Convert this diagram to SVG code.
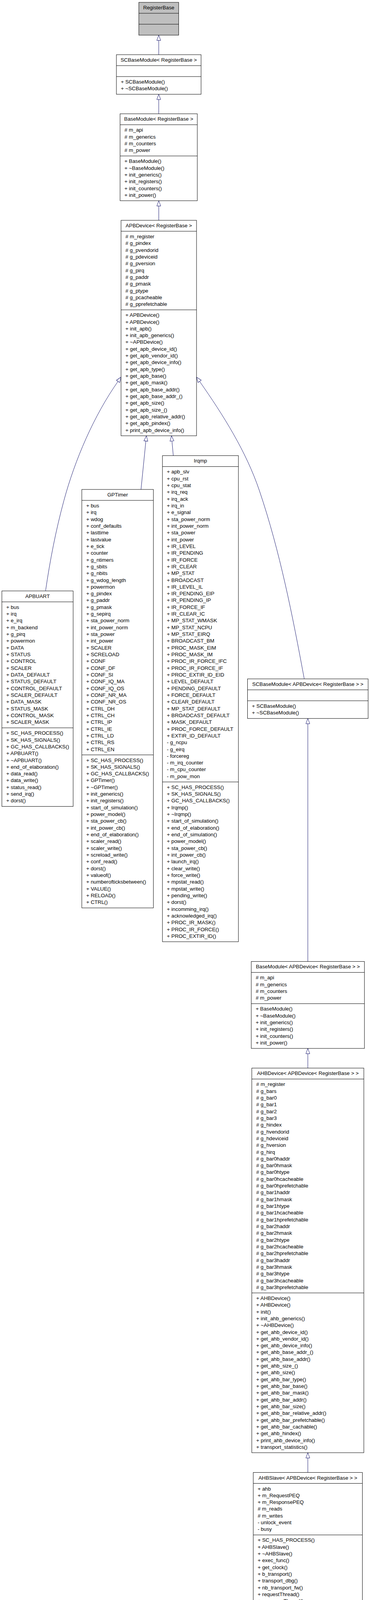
<svg xmlns="http://www.w3.org/2000/svg" width="947" height="6957" viewBox="0 0 947 6957">
<style>
.t{font-family:"Liberation Sans",Arial,Helvetica,sans-serif;font-size:13.3px;fill:#000}
.c{text-anchor:middle}
.b{fill:#fff;stroke:#000;stroke-width:1}
.g{fill:#bfbfbf}
.d{stroke:#000;stroke-width:1}
.e{fill:none;stroke:#191970;stroke-width:1;marker-end:url(#arr)}
</style>
<defs>
<marker id="arr" markerUnits="userSpaceOnUse" markerWidth="16" markerHeight="12" viewBox="-1 -1 16 12" refX="13.5" refY="5" orient="auto">
<path d="M0,0 L13.5,5 L0,10 Z" fill="#fff" stroke="#191970" stroke-width="1"/>
</marker>
</defs>
<rect width="947" height="6957" fill="#fff"/>

<g id="edges">
<path class="e" d="M406.3,140 V90"/>
<path class="e" d="M406.3,291.3 V241.32"/>
<path class="e" d="M406.4,564 V513.86"/>
<path class="e" d="M116.6,1512.8 C128,1434.6 142.6,1358.8 163.5,1281.6 C191.7,1177.4 240.1,1064.1 302.4,975.9 L309.8,965.3"/>
<path class="e" d="M360.9,1253 L374.7,1115.64"/>
<path class="e" d="M443.5,1166.4 L438.9,1115.64"/>
<path class="e" d="M778.7,1737.96 C748.8,1576.2 716.7,1412.3 663.9,1256 C630,1155.6 571.3,1062.7 510.6,975.9 L503,965.3"/>
<path class="e" d="M787.9,2461.4 V1839.28"/>
<path class="e" d="M787.9,2734.3 V2683.96"/>
<path class="e" d="M787.9,3769.5 V3718.94"/>
<path class="e" d="M787.9,4198 V4147.94"/>
</g>

<g id="RegisterBase">
<rect class="b g" x="355.3" y="6" width="102" height="84"/>
<line class="d" x1="355.3" y1="34" x2="457.3" y2="34"/>
<line class="d" x1="355.3" y1="62" x2="457.3" y2="62"/>
<text class="t c" x="406.3" y="24">RegisterBase</text>
</g>

<g id="SCBaseModule_RegisterBase">
<rect class="b" x="297.95" y="140" width="216.7" height="101.32"/>
<line class="d" x1="297.95" y1="168" x2="514.65" y2="168"/>
<line class="d" x1="297.95" y1="196" x2="514.65" y2="196"/>
<text class="t c" x="406.3" y="158">SCBaseModule&lt; RegisterBase &gt;</text>
<text class="t" y="214"><tspan x="309.25" dy="0">+ SCBaseModule()</tspan><tspan x="309.25" dy="17.32">+ ~SCBaseModule()</tspan></text>
</g>

<g id="BaseModule_RegisterBase">
<rect class="b" x="307.3" y="291.3" width="197.7" height="222.56"/>
<line class="d" x1="307.3" y1="319.3" x2="505" y2="319.3"/>
<line class="d" x1="307.3" y1="399.26" x2="505" y2="399.26"/>
<text class="t c" x="406.15" y="309.3">BaseModule&lt; RegisterBase &gt;</text>
<text class="t" y="337.3"><tspan x="318.6" dy="0"># m_api</tspan><tspan x="318.6" dy="17.32"># m_generics</tspan><tspan x="318.6" dy="17.32"># m_counters</tspan><tspan x="318.6" dy="17.32"># m_power</tspan></text>
<text class="t" y="417.26"><tspan x="318.6" dy="0">+ BaseModule()</tspan><tspan x="318.6" dy="17.32">+ ~BaseModule()</tspan><tspan x="318.6" dy="17.32">+ init_generics()</tspan><tspan x="318.6" dy="17.32">+ init_registers()</tspan><tspan x="318.6" dy="17.32">+ init_counters()</tspan><tspan x="318.6" dy="17.32">+ init_power()</tspan></text>
</g>

<g id="APBDevice_RegisterBase">
<rect class="b" x="309.8" y="564" width="193.2" height="551.64"/>
<line class="d" x1="309.8" y1="592" x2="503" y2="592"/>
<line class="d" x1="309.8" y1="793.2" x2="503" y2="793.2"/>
<text class="t c" x="406.4" y="582">APBDevice&lt; RegisterBase &gt;</text>
<text class="t" y="610"><tspan x="321.1" dy="0"># m_register</tspan><tspan x="321.1" dy="17.32"># g_pindex</tspan><tspan x="321.1" dy="17.32"># g_pvendorid</tspan><tspan x="321.1" dy="17.32"># g_pdeviceid</tspan><tspan x="321.1" dy="17.32"># g_pversion</tspan><tspan x="321.1" dy="17.32"># g_pirq</tspan><tspan x="321.1" dy="17.32"># g_paddr</tspan><tspan x="321.1" dy="17.32"># g_pmask</tspan><tspan x="321.1" dy="17.32"># g_ptype</tspan><tspan x="321.1" dy="17.32"># g_pcacheable</tspan><tspan x="321.1" dy="17.32"># g_pprefetchable</tspan></text>
<text class="t" y="811.2"><tspan x="321.1" dy="0">+ APBDevice()</tspan><tspan x="321.1" dy="17.32">+ APBDevice()</tspan><tspan x="321.1" dy="17.32">+ init_apb()</tspan><tspan x="321.1" dy="17.32">+ init_apb_generics()</tspan><tspan x="321.1" dy="17.32">+ ~APBDevice()</tspan><tspan x="321.1" dy="17.32">+ get_apb_device_id()</tspan><tspan x="321.1" dy="17.32">+ get_apb_vendor_id()</tspan><tspan x="321.1" dy="17.32">+ get_apb_device_info()</tspan><tspan x="321.1" dy="17.32">+ get_apb_type()</tspan><tspan x="321.1" dy="17.32">+ get_apb_base()</tspan><tspan x="321.1" dy="17.32">+ get_apb_mask()</tspan><tspan x="321.1" dy="17.32">+ get_apb_base_addr()</tspan><tspan x="321.1" dy="17.32">+ get_apb_base_addr_()</tspan><tspan x="321.1" dy="17.32">+ get_apb_size()</tspan><tspan x="321.1" dy="17.32">+ get_apb_size_()</tspan><tspan x="321.1" dy="17.32">+ get_apb_relative_addr()</tspan><tspan x="321.1" dy="17.32">+ get_apb_pindex()</tspan><tspan x="321.1" dy="17.32">+ print_apb_device_info()</tspan></text>
</g>

<g id="APBUART">
<rect class="b" x="4.8" y="1512.8" width="182.4" height="551.64"/>
<line class="d" x1="4.8" y1="1540.8" x2="187.2" y2="1540.8"/>
<line class="d" x1="4.8" y1="1863.24" x2="187.2" y2="1863.24"/>
<text class="t c" x="96" y="1530.8">APBUART</text>
<text class="t" y="1558.8"><tspan x="16.1" dy="0">+ bus</tspan><tspan x="16.1" dy="17.32">+ irq</tspan><tspan x="16.1" dy="17.32">+ e_irq</tspan><tspan x="16.1" dy="17.32">+ m_backend</tspan><tspan x="16.1" dy="17.32">+ g_pirq</tspan><tspan x="16.1" dy="17.32">+ powermon</tspan><tspan x="16.1" dy="17.32">+ DATA</tspan><tspan x="16.1" dy="17.32">+ STATUS</tspan><tspan x="16.1" dy="17.32">+ CONTROL</tspan><tspan x="16.1" dy="17.32">+ SCALER</tspan><tspan x="16.1" dy="17.32">+ DATA_DEFAULT</tspan><tspan x="16.1" dy="17.32">+ STATUS_DEFAULT</tspan><tspan x="16.1" dy="17.32">+ CONTROL_DEFAULT</tspan><tspan x="16.1" dy="17.32">+ SCALER_DEFAULT</tspan><tspan x="16.1" dy="17.32">+ DATA_MASK</tspan><tspan x="16.1" dy="17.32">+ STATUS_MASK</tspan><tspan x="16.1" dy="17.32">+ CONTROL_MASK</tspan><tspan x="16.1" dy="17.32">+ SCALER_MASK</tspan></text>
<text class="t" y="1881.24"><tspan x="16.1" dy="0">+ SC_HAS_PROCESS()</tspan><tspan x="16.1" dy="17.32">+ SK_HAS_SIGNALS()</tspan><tspan x="16.1" dy="17.32">+ GC_HAS_CALLBACKS()</tspan><tspan x="16.1" dy="17.32">+ APBUART()</tspan><tspan x="16.1" dy="17.32">+ ~APBUART()</tspan><tspan x="16.1" dy="17.32">+ end_of_elaboration()</tspan><tspan x="16.1" dy="17.32">+ data_read()</tspan><tspan x="16.1" dy="17.32">+ data_write()</tspan><tspan x="16.1" dy="17.32">+ status_read()</tspan><tspan x="16.1" dy="17.32">+ send_irq()</tspan><tspan x="16.1" dy="17.32">+ dorst()</tspan></text>
</g>

<g id="GPTimer">
<rect class="b" x="209.4" y="1253" width="183.2" height="1071.24"/>
<line class="d" x1="209.4" y1="1281" x2="392.6" y2="1281"/>
<line class="d" x1="209.4" y1="1932.52" x2="392.6" y2="1932.52"/>
<text class="t c" x="301" y="1271">GPTimer</text>
<text class="t" y="1299"><tspan x="220.7" dy="0">+ bus</tspan><tspan x="220.7" dy="17.32">+ irq</tspan><tspan x="220.7" dy="17.32">+ wdog</tspan><tspan x="220.7" dy="17.32">+ conf_defaults</tspan><tspan x="220.7" dy="17.32">+ lasttime</tspan><tspan x="220.7" dy="17.32">+ lastvalue</tspan><tspan x="220.7" dy="17.32">+ e_tick</tspan><tspan x="220.7" dy="17.32">+ counter</tspan><tspan x="220.7" dy="17.32">+ g_ntimers</tspan><tspan x="220.7" dy="17.32">+ g_sbits</tspan><tspan x="220.7" dy="17.32">+ g_nbits</tspan><tspan x="220.7" dy="17.32">+ g_wdog_length</tspan><tspan x="220.7" dy="17.32">+ powermon</tspan><tspan x="220.7" dy="17.32">+ g_pindex</tspan><tspan x="220.7" dy="17.32">+ g_paddr</tspan><tspan x="220.7" dy="17.32">+ g_pmask</tspan><tspan x="220.7" dy="17.32">+ g_sepirq</tspan><tspan x="220.7" dy="17.32">+ sta_power_norm</tspan><tspan x="220.7" dy="17.32">+ int_power_norm</tspan><tspan x="220.7" dy="17.32">+ sta_power</tspan><tspan x="220.7" dy="17.32">+ int_power</tspan><tspan x="220.7" dy="17.32">+ SCALER</tspan><tspan x="220.7" dy="17.32">+ SCRELOAD</tspan><tspan x="220.7" dy="17.32">+ CONF</tspan><tspan x="220.7" dy="17.32">+ CONF_DF</tspan><tspan x="220.7" dy="17.32">+ CONF_SI</tspan><tspan x="220.7" dy="17.32">+ CONF_IQ_MA</tspan><tspan x="220.7" dy="17.32">+ CONF_IQ_OS</tspan><tspan x="220.7" dy="17.32">+ CONF_NR_MA</tspan><tspan x="220.7" dy="17.32">+ CONF_NR_OS</tspan><tspan x="220.7" dy="17.32">+ CTRL_DH</tspan><tspan x="220.7" dy="17.32">+ CTRL_CH</tspan><tspan x="220.7" dy="17.32">+ CTRL_IP</tspan><tspan x="220.7" dy="17.32">+ CTRL_IE</tspan><tspan x="220.7" dy="17.32">+ CTRL_LD</tspan><tspan x="220.7" dy="17.32">+ CTRL_RS</tspan><tspan x="220.7" dy="17.32">+ CTRL_EN</tspan></text>
<text class="t" y="1950.52"><tspan x="220.7" dy="0">+ SC_HAS_PROCESS()</tspan><tspan x="220.7" dy="17.32">+ SK_HAS_SIGNALS()</tspan><tspan x="220.7" dy="17.32">+ GC_HAS_CALLBACKS()</tspan><tspan x="220.7" dy="17.32">+ GPTimer()</tspan><tspan x="220.7" dy="17.32">+ ~GPTimer()</tspan><tspan x="220.7" dy="17.32">+ init_generics()</tspan><tspan x="220.7" dy="17.32">+ init_registers()</tspan><tspan x="220.7" dy="17.32">+ start_of_simulation()</tspan><tspan x="220.7" dy="17.32">+ power_model()</tspan><tspan x="220.7" dy="17.32">+ sta_power_cb()</tspan><tspan x="220.7" dy="17.32">+ int_power_cb()</tspan><tspan x="220.7" dy="17.32">+ end_of_elaboration()</tspan><tspan x="220.7" dy="17.32">+ scaler_read()</tspan><tspan x="220.7" dy="17.32">+ scaler_write()</tspan><tspan x="220.7" dy="17.32">+ screload_write()</tspan><tspan x="220.7" dy="17.32">+ conf_read()</tspan><tspan x="220.7" dy="17.32">+ dorst()</tspan><tspan x="220.7" dy="17.32">+ valueof()</tspan><tspan x="220.7" dy="17.32">+ numberofticksbetween()</tspan><tspan x="220.7" dy="17.32">+ VALUE()</tspan><tspan x="220.7" dy="17.32">+ RELOAD()</tspan><tspan x="220.7" dy="17.32">+ CTRL()</tspan></text>
</g>

<g id="Irqmp">
<rect class="b" x="415.8" y="1166.4" width="194.4" height="1244.44"/>
<line class="d" x1="415.8" y1="1194.4" x2="610.2" y2="1194.4"/>
<line class="d" x1="415.8" y1="2001.8" x2="610.2" y2="2001.8"/>
<text class="t c" x="513" y="1184.4">Irqmp</text>
<text class="t" y="1212.4"><tspan x="427.1" dy="0">+ apb_slv</tspan><tspan x="427.1" dy="17.32">+ cpu_rst</tspan><tspan x="427.1" dy="17.32">+ cpu_stat</tspan><tspan x="427.1" dy="17.32">+ irq_req</tspan><tspan x="427.1" dy="17.32">+ irq_ack</tspan><tspan x="427.1" dy="17.32">+ irq_in</tspan><tspan x="427.1" dy="17.32">+ e_signal</tspan><tspan x="427.1" dy="17.32">+ sta_power_norm</tspan><tspan x="427.1" dy="17.32">+ int_power_norm</tspan><tspan x="427.1" dy="17.32">+ sta_power</tspan><tspan x="427.1" dy="17.32">+ int_power</tspan><tspan x="427.1" dy="17.32">+ IR_LEVEL</tspan><tspan x="427.1" dy="17.32">+ IR_PENDING</tspan><tspan x="427.1" dy="17.32">+ IR_FORCE</tspan><tspan x="427.1" dy="17.32">+ IR_CLEAR</tspan><tspan x="427.1" dy="17.32">+ MP_STAT</tspan><tspan x="427.1" dy="17.32">+ BROADCAST</tspan><tspan x="427.1" dy="17.32">+ IR_LEVEL_IL</tspan><tspan x="427.1" dy="17.32">+ IR_PENDING_EIP</tspan><tspan x="427.1" dy="17.32">+ IR_PENDING_IP</tspan><tspan x="427.1" dy="17.32">+ IR_FORCE_IF</tspan><tspan x="427.1" dy="17.32">+ IR_CLEAR_IC</tspan><tspan x="427.1" dy="17.32">+ MP_STAT_WMASK</tspan><tspan x="427.1" dy="17.32">+ MP_STAT_NCPU</tspan><tspan x="427.1" dy="17.32">+ MP_STAT_EIRQ</tspan><tspan x="427.1" dy="17.32">+ BROADCAST_BM</tspan><tspan x="427.1" dy="17.32">+ PROC_MASK_EIM</tspan><tspan x="427.1" dy="17.32">+ PROC_MASK_IM</tspan><tspan x="427.1" dy="17.32">+ PROC_IR_FORCE_IFC</tspan><tspan x="427.1" dy="17.32">+ PROC_IR_FORCE_IF</tspan><tspan x="427.1" dy="17.32">+ PROC_EXTIR_ID_EID</tspan><tspan x="427.1" dy="17.32">+ LEVEL_DEFAULT</tspan><tspan x="427.1" dy="17.32">+ PENDING_DEFAULT</tspan><tspan x="427.1" dy="17.32">+ FORCE_DEFAULT</tspan><tspan x="427.1" dy="17.32">+ CLEAR_DEFAULT</tspan><tspan x="427.1" dy="17.32">+ MP_STAT_DEFAULT</tspan><tspan x="427.1" dy="17.32">+ BROADCAST_DEFAULT</tspan><tspan x="427.1" dy="17.32">+ MASK_DEFAULT</tspan><tspan x="427.1" dy="17.32">+ PROC_FORCE_DEFAULT</tspan><tspan x="427.1" dy="17.32">+ EXTIR_ID_DEFAULT</tspan><tspan x="427.1" dy="17.32">- g_ncpu</tspan><tspan x="427.1" dy="17.32">- g_eirq</tspan><tspan x="427.1" dy="17.32">- forcereg</tspan><tspan x="427.1" dy="17.32">- m_irq_counter</tspan><tspan x="427.1" dy="17.32">- m_cpu_counter</tspan><tspan x="427.1" dy="17.32">- m_pow_mon</tspan></text>
<text class="t" y="2019.8"><tspan x="427.1" dy="0">+ SC_HAS_PROCESS()</tspan><tspan x="427.1" dy="17.32">+ SK_HAS_SIGNALS()</tspan><tspan x="427.1" dy="17.32">+ GC_HAS_CALLBACKS()</tspan><tspan x="427.1" dy="17.32">+ Irqmp()</tspan><tspan x="427.1" dy="17.32">+ ~Irqmp()</tspan><tspan x="427.1" dy="17.32">+ start_of_simulation()</tspan><tspan x="427.1" dy="17.32">+ end_of_elaboration()</tspan><tspan x="427.1" dy="17.32">+ end_of_simulation()</tspan><tspan x="427.1" dy="17.32">+ power_model()</tspan><tspan x="427.1" dy="17.32">+ sta_power_cb()</tspan><tspan x="427.1" dy="17.32">+ int_power_cb()</tspan><tspan x="427.1" dy="17.32">+ launch_irq()</tspan><tspan x="427.1" dy="17.32">+ clear_write()</tspan><tspan x="427.1" dy="17.32">+ force_write()</tspan><tspan x="427.1" dy="17.32">+ mpstat_read()</tspan><tspan x="427.1" dy="17.32">+ mpstat_write()</tspan><tspan x="427.1" dy="17.32">+ pending_write()</tspan><tspan x="427.1" dy="17.32">+ dorst()</tspan><tspan x="427.1" dy="17.32">+ incomming_irq()</tspan><tspan x="427.1" dy="17.32">+ acknowledged_irq()</tspan><tspan x="427.1" dy="17.32">+ PROC_IR_MASK()</tspan><tspan x="427.1" dy="17.32">+ PROC_IR_FORCE()</tspan><tspan x="427.1" dy="17.32">+ PROC_EXTIR_ID()</tspan></text>
</g>

<g id="SCBaseModule_APBDevice">
<rect class="b" x="633.5" y="1737.96" width="308.7" height="101.32"/>
<line class="d" x1="633.5" y1="1765.96" x2="942.2" y2="1765.96"/>
<line class="d" x1="633.5" y1="1793.96" x2="942.2" y2="1793.96"/>
<text class="t c" x="787.85" y="1755.96">SCBaseModule&lt; APBDevice&lt; RegisterBase &gt; &gt;</text>
<text class="t" y="1811.96"><tspan x="644.8" dy="0">+ SCBaseModule()</tspan><tspan x="644.8" dy="17.32">+ ~SCBaseModule()</tspan></text>
</g>

<g id="BaseModule_APBDevice">
<rect class="b" x="643.1" y="2461.4" width="289.7" height="222.56"/>
<line class="d" x1="643.1" y1="2489.4" x2="932.8" y2="2489.4"/>
<line class="d" x1="643.1" y1="2569.36" x2="932.8" y2="2569.36"/>
<text class="t c" x="787.95" y="2479.4">BaseModule&lt; APBDevice&lt; RegisterBase &gt; &gt;</text>
<text class="t" y="2507.4"><tspan x="654.4" dy="0"># m_api</tspan><tspan x="654.4" dy="17.32"># m_generics</tspan><tspan x="654.4" dy="17.32"># m_counters</tspan><tspan x="654.4" dy="17.32"># m_power</tspan></text>
<text class="t" y="2587.36"><tspan x="654.4" dy="0">+ BaseModule()</tspan><tspan x="654.4" dy="17.32">+ ~BaseModule()</tspan><tspan x="654.4" dy="17.32">+ init_generics()</tspan><tspan x="654.4" dy="17.32">+ init_registers()</tspan><tspan x="654.4" dy="17.32">+ init_counters()</tspan><tspan x="654.4" dy="17.32">+ init_power()</tspan></text>
</g>

<g id="AHBDevice_APBDevice">
<rect class="b" x="644.5" y="2734.3" width="286.7" height="984.64"/>
<line class="d" x1="644.5" y1="2762.3" x2="931.2" y2="2762.3"/>
<line class="d" x1="644.5" y1="3309.9" x2="931.2" y2="3309.9"/>
<text class="t c" x="787.85" y="2752.3">AHBDevice&lt; APBDevice&lt; RegisterBase &gt; &gt;</text>
<text class="t" y="2780.3"><tspan x="655.8" dy="0"># m_register</tspan><tspan x="655.8" dy="17.32"># g_bars</tspan><tspan x="655.8" dy="17.32"># g_bar0</tspan><tspan x="655.8" dy="17.32"># g_bar1</tspan><tspan x="655.8" dy="17.32"># g_bar2</tspan><tspan x="655.8" dy="17.32"># g_bar3</tspan><tspan x="655.8" dy="17.32"># g_hindex</tspan><tspan x="655.8" dy="17.32"># g_hvendorid</tspan><tspan x="655.8" dy="17.32"># g_hdeviceid</tspan><tspan x="655.8" dy="17.32"># g_hversion</tspan><tspan x="655.8" dy="17.32"># g_hirq</tspan><tspan x="655.8" dy="17.32"># g_bar0haddr</tspan><tspan x="655.8" dy="17.32"># g_bar0hmask</tspan><tspan x="655.8" dy="17.32"># g_bar0htype</tspan><tspan x="655.8" dy="17.32"># g_bar0hcacheable</tspan><tspan x="655.8" dy="17.32"># g_bar0hprefetchable</tspan><tspan x="655.8" dy="17.32"># g_bar1haddr</tspan><tspan x="655.8" dy="17.32"># g_bar1hmask</tspan><tspan x="655.8" dy="17.32"># g_bar1htype</tspan><tspan x="655.8" dy="17.32"># g_bar1hcacheable</tspan><tspan x="655.8" dy="17.32"># g_bar1hprefetchable</tspan><tspan x="655.8" dy="17.32"># g_bar2haddr</tspan><tspan x="655.8" dy="17.32"># g_bar2hmask</tspan><tspan x="655.8" dy="17.32"># g_bar2htype</tspan><tspan x="655.8" dy="17.32"># g_bar2hcacheable</tspan><tspan x="655.8" dy="17.32"># g_bar2hprefetchable</tspan><tspan x="655.8" dy="17.32"># g_bar3haddr</tspan><tspan x="655.8" dy="17.32"># g_bar3hmask</tspan><tspan x="655.8" dy="17.32"># g_bar3htype</tspan><tspan x="655.8" dy="17.32"># g_bar3hcacheable</tspan><tspan x="655.8" dy="17.32"># g_bar3hprefetchable</tspan></text>
<text class="t" y="3327.9"><tspan x="655.8" dy="0">+ AHBDevice()</tspan><tspan x="655.8" dy="17.32">+ AHBDevice()</tspan><tspan x="655.8" dy="17.32">+ init()</tspan><tspan x="655.8" dy="17.32">+ init_ahb_generics()</tspan><tspan x="655.8" dy="17.32">+ ~AHBDevice()</tspan><tspan x="655.8" dy="17.32">+ get_ahb_device_id()</tspan><tspan x="655.8" dy="17.32">+ get_ahb_vendor_id()</tspan><tspan x="655.8" dy="17.32">+ get_ahb_device_info()</tspan><tspan x="655.8" dy="17.32">+ get_ahb_base_addr_()</tspan><tspan x="655.8" dy="17.32">+ get_ahb_base_addr()</tspan><tspan x="655.8" dy="17.32">+ get_ahb_size_()</tspan><tspan x="655.8" dy="17.32">+ get_ahb_size()</tspan><tspan x="655.8" dy="17.32">+ get_ahb_bar_type()</tspan><tspan x="655.8" dy="17.32">+ get_ahb_bar_base()</tspan><tspan x="655.8" dy="17.32">+ get_ahb_bar_mask()</tspan><tspan x="655.8" dy="17.32">+ get_ahb_bar_addr()</tspan><tspan x="655.8" dy="17.32">+ get_ahb_bar_size()</tspan><tspan x="655.8" dy="17.32">+ get_ahb_bar_relative_addr()</tspan><tspan x="655.8" dy="17.32">+ get_ahb_bar_prefetchable()</tspan><tspan x="655.8" dy="17.32">+ get_ahb_bar_cachable()</tspan><tspan x="655.8" dy="17.32">+ get_ahb_hindex()</tspan><tspan x="655.8" dy="17.32">+ print_ahb_device_info()</tspan><tspan x="655.8" dy="17.32">+ transport_statistics()</tspan></text>
</g>

<g id="AHBSlave_APBDevice">
<rect class="b" x="648.2" y="3769.5" width="279.3" height="378.44"/>
<line class="d" x1="648.2" y1="3797.5" x2="927.5" y2="3797.5"/>
<line class="d" x1="648.2" y1="3929.42" x2="927.5" y2="3929.42"/>
<text class="t c" x="787.85" y="3787.5">AHBSlave&lt; APBDevice&lt; RegisterBase &gt; &gt;</text>
<text class="t" y="3815.5"><tspan x="659.5" dy="0">+ ahb</tspan><tspan x="659.5" dy="17.32">+ m_RequestPEQ</tspan><tspan x="659.5" dy="17.32">+ m_ResponsePEQ</tspan><tspan x="659.5" dy="17.32"># m_reads</tspan><tspan x="659.5" dy="17.32"># m_writes</tspan><tspan x="659.5" dy="17.32">- unlock_event</tspan><tspan x="659.5" dy="17.32">- busy</tspan></text>
<text class="t" y="3947.42"><tspan x="659.5" dy="0">+ SC_HAS_PROCESS()</tspan><tspan x="659.5" dy="17.32">+ AHBSlave()</tspan><tspan x="659.5" dy="17.32">+ ~AHBSlave()</tspan><tspan x="659.5" dy="17.32">+ exec_func()</tspan><tspan x="659.5" dy="17.32">+ get_clock()</tspan><tspan x="659.5" dy="17.32">+ b_transport()</tspan><tspan x="659.5" dy="17.32">+ transport_dbg()</tspan><tspan x="659.5" dy="17.32">+ nb_transport_fw()</tspan><tspan x="659.5" dy="17.32">+ requestThread()</tspan><tspan x="659.5" dy="17.32">+ responseThread()</tspan><tspan x="659.5" dy="17.32">+ transport_statistics()</tspan><tspan x="659.5" dy="17.32">+ print_transport_statistics()</tspan></text>
</g>

<g id="Mctrl">
<rect class="b" x="650.7" y="4198" width="274.6" height="2751.28"/>
<line class="d" x1="650.7" y1="4226" x2="925.3" y2="4226"/>
<line class="d" x1="650.7" y1="6557.56" x2="925.3" y2="6557.56"/>
<text class="t c" x="788" y="4216">Mctrl</text>
<text class="t" y="4244"><tspan x="662" dy="0">+ apb</tspan><tspan x="662" dy="17.32">+ mem</tspan><tspan x="662" dy="17.32">+ MCFG1</tspan><tspan x="662" dy="17.32">+ MCFG2</tspan><tspan x="662" dy="17.32">+ MCFG3</tspan><tspan x="662" dy="17.32">+ MCFG4</tspan><tspan x="662" dy="17.32">+ MCFG1_WRITE_MASK</tspan><tspan x="662" dy="17.32">+ MCFG1_IOBUSW</tspan><tspan x="662" dy="17.32">+ MCFG1_IBRDY</tspan><tspan x="662" dy="17.32">+ MCFG1_BEXCN</tspan><tspan x="662" dy="17.32">+ MCFG1_IO_WAITSTATES</tspan><tspan x="662" dy="17.32">+ MCFG1_IOEN</tspan><tspan x="662" dy="17.32">+ MCFG1_PWEN</tspan><tspan x="662" dy="17.32">+ MCFG1_PROM_WIDTH</tspan><tspan x="662" dy="17.32">+ MCFG1_IO_WIDTH</tspan><tspan x="662" dy="17.32">+ MCFG1_PROM_WRITE_WS</tspan><tspan x="662" dy="17.32">+ MCFG1_PROM_READ_WS</tspan><tspan x="662" dy="17.32">+ MCFG2_WRITE_MASK</tspan><tspan x="662" dy="17.32">+ MCFG2_SDRF</tspan><tspan x="662" dy="17.32">+ MCFG2_TRP</tspan><tspan x="662" dy="17.32">+ MCFG2_SDRAM_TRFC</tspan><tspan x="662" dy="17.32">+ MCFG2_TCAS</tspan><tspan x="662" dy="17.32">+ MCFG2_SDRAM_BANKSZ</tspan><tspan x="662" dy="17.32">+ MCFG2_SDRAM_COSZ</tspan><tspan x="662" dy="17.32">+ MCFG2_SDRAM_CMD</tspan><tspan x="662" dy="17.32">+ MCFG2_D64</tspan><tspan x="662" dy="17.32">+ MCFG2_MS</tspan><tspan x="662" dy="17.32">+ MCFG2_SE</tspan><tspan x="662" dy="17.32">+ MCFG2_SI</tspan><tspan x="662" dy="17.32">+ MCFG2_RAM_BANK_SIZE</tspan><tspan x="662" dy="17.32">+ MCFG2_RBRDY</tspan><tspan x="662" dy="17.32">+ MCFG2_RMW</tspan><tspan x="662" dy="17.32">+ MCFG2_RAM_WIDTH</tspan><tspan x="662" dy="17.32">+ MCFG2_RAM_WRITE_WS</tspan><tspan x="662" dy="17.32">+ MCFG2_RAM_READ_WS</tspan><tspan x="662" dy="17.32">+ MCFG3_WRITE_MASK</tspan><tspan x="662" dy="17.32">+ MCFG3_SDRAM_RLD_VAL</tspan><tspan x="662" dy="17.32">+ MCFG4_WRITE_MASK</tspan><tspan x="662" dy="17.32">+ MCFG4_ME</tspan><tspan x="662" dy="17.32">+ MCFG4_CE</tspan><tspan x="662" dy="17.32">+ MCFG4_EM</tspan><tspan x="662" dy="17.32">+ MCFG4_TXSR</tspan><tspan x="662" dy="17.32">+ MCFG4_PMODE</tspan><tspan x="662" dy="17.32">+ MCFG4_DC</tspan><tspan x="662" dy="17.32">+ MCFG4_TCSR</tspan><tspan x="662" dy="17.32">+ MCFG4_PASR</tspan><tspan x="662" dy="17.32">+ MCFG1_IOBUSW_DEFAULT</tspan><tspan x="662" dy="17.32">+ MCFG1_IBRDY_DEFAULT</tspan><tspan x="662" dy="17.32">+ MCFG1_BEXCN_DEFAULT</tspan><tspan x="662" dy="17.32">+ MCFG1_IO_WAITSTATES_DEFAULT</tspan><tspan x="662" dy="17.32">+ MCFG1_IOEN_DEFAULT</tspan><tspan x="662" dy="17.32">+ MCFG1_PWEN_DEFAULT</tspan><tspan x="662" dy="17.32">+ MCFG1_PROM_WIDTH_DEFAULT</tspan><tspan x="662" dy="17.32">+ MCFG1_PROM_WRITE_WS_DEFAULT</tspan><tspan x="662" dy="17.32">+ MCFG1_PROM_READ_WS_DEFAULT</tspan><tspan x="662" dy="17.32">+ MCFG1_DEFAULT</tspan><tspan x="662" dy="17.32">+ MCFG2_SDRF_DEFAULT</tspan><tspan x="662" dy="17.32">+ MCFG2_TRP_DEFAULT</tspan><tspan x="662" dy="17.32">+ MCFG2_SDRAM_TRFC_DEFAULT</tspan><tspan x="662" dy="17.32">+ MCFG2_TCAS_DEFAULT</tspan><tspan x="662" dy="17.32">+ MCFG2_SDRAM_BANKSZ_DEFAULT</tspan><tspan x="662" dy="17.32">+ MCFG2_SDRAM_COSZ_DEFAULT</tspan><tspan x="662" dy="17.32">+ MCFG2_SDRAM_CMD_DEFAULT</tspan><tspan x="662" dy="17.32">+ MCFG2_D64_DEFAULT</tspan><tspan x="662" dy="17.32">+ MCFG2_MS_DEFAULT</tspan><tspan x="662" dy="17.32">+ MCFG2_SE_DEFAULT</tspan><tspan x="662" dy="17.32">+ MCFG2_SI_DEFAULT</tspan><tspan x="662" dy="17.32">+ MCFG2_RAM_BANK_SIZE_DEFAULT</tspan><tspan x="662" dy="17.32">+ MCFG2_RBRDY_DEFAULT</tspan><tspan x="662" dy="17.32">+ MCFG2_RMW_DEFAULT</tspan><tspan x="662" dy="17.32">+ MCFG2_RAM_WIDTH_DEFAULT</tspan><tspan x="662" dy="17.32">+ MCFG2_RAM_WRITE_WS_DEFAULT</tspan><tspan x="662" dy="17.32">+ MCFG2_RAM_READ_WS_DEFAULT</tspan><tspan x="662" dy="17.32">+ MCFG2_DEFAULT</tspan><tspan x="662" dy="17.32">+ MCFG3_DEFAULT</tspan><tspan x="662" dy="17.32">+ MCFG4_ME_DEFAULT</tspan><tspan x="662" dy="17.32">+ MCFG4_CE_DEFAULT</tspan><tspan x="662" dy="17.32">+ MCFG4_EM_DEFAULT</tspan><tspan x="662" dy="17.32">+ MCFG4_TXSR_DEFAULT</tspan><tspan x="662" dy="17.32">+ MCFG4_PMODE_DEFAULT</tspan><tspan x="662" dy="17.32">+ MCFG4_DS_DEFAULT</tspan><tspan x="662" dy="17.32">+ MCFG4_TCSR_DEFAULT</tspan><tspan x="662" dy="17.32">+ MCFG4_PASR_DEFAULT</tspan><tspan x="662" dy="17.32">+ MCFG4_DEFAULT</tspan><tspan x="662" dy="17.32">- c_rom</tspan><tspan x="662" dy="17.32">- c_io</tspan><tspan x="662" dy="17.32">- c_sram</tspan><tspan x="662" dy="17.32">- c_sdram</tspan><tspan x="662" dy="17.32">- c_null</tspan><tspan x="662" dy="17.32">- unlock_event</tspan><tspan x="662" dy="17.32">- callback_delay</tspan><tspan x="662" dy="17.32">- start_idle</tspan><tspan x="662" dy="17.32">- next_refresh</tspan><tspan x="662" dy="17.32">- refresh_stall</tspan><tspan x="662" dy="17.32">- busy</tspan><tspan x="662" dy="17.32">- m_trfc</tspan><tspan x="662" dy="17.32">- m_pmode</tspan><tspan x="662" dy="17.32">- m_total_transactions</tspan><tspan x="662" dy="17.32">- m_right_transactions</tspan><tspan x="662" dy="17.32">- m_power_down_time</tspan><tspan x="662" dy="17.32">- m_power_down_start</tspan><tspan x="662" dy="17.32">- m_deep_power_down_time</tspan><tspan x="662" dy="17.32">- m_deep_power_down_start</tspan><tspan x="662" dy="17.32">- m_self_refresh_time</tspan><tspan x="662" dy="17.32">- m_self_refresh_start</tspan><tspan x="662" dy="17.32">- sta_power_norm</tspan><tspan x="662" dy="17.32">- int_power_norm</tspan><tspan x="662" dy="17.32">- dyn_read_energy_norm</tspan><tspan x="662" dy="17.32">- dyn_write_energy_norm</tspan><tspan x="662" dy="17.32">- sta_power</tspan><tspan x="662" dy="17.32">- int_power</tspan><tspan x="662" dy="17.32">- swi_power</tspan><tspan x="662" dy="17.32">- power_frame_starting_time</tspan><tspan x="662" dy="17.32">- dyn_read_energy</tspan><tspan x="662" dy="17.32">- dyn_write_energy</tspan><tspan x="662" dy="17.32">- dyn_reads</tspan><tspan x="662" dy="17.32">- dyn_writes</tspan><tspan x="662" dy="17.32">- g_romasel</tspan><tspan x="662" dy="17.32">- g_sdrasel</tspan><tspan x="662" dy="17.32">- g_romaddr</tspan><tspan x="662" dy="17.32">- g_rommask</tspan><tspan x="662" dy="17.32">- g_ioaddr</tspan><tspan x="662" dy="17.32">- g_iomask</tspan><tspan x="662" dy="17.32">- g_ramaddr</tspan><tspan x="662" dy="17.32">- g_rammask</tspan><tspan x="662" dy="17.32">- g_wprot</tspan><tspan x="662" dy="17.32">- g_srbanks</tspan><tspan x="662" dy="17.32">- g_ram8</tspan><tspan x="662" dy="17.32">- g_ram16</tspan><tspan x="662" dy="17.32">- g_sepbus</tspan><tspan x="662" dy="17.32">- g_sdbits</tspan><tspan x="662" dy="17.32">- g_mobile</tspan><tspan x="662" dy="17.32">- g_sden</tspan><tspan x="662" dy="17.32">- g_pow_mon</tspan></text>
<text class="t" y="6575.56"><tspan x="662" dy="0">+ SC_HAS_PROCESS()</tspan><tspan x="662" dy="17.32">+ SK_HAS_SIGNALS()</tspan><tspan x="662" dy="17.32">+ Mctrl()</tspan><tspan x="662" dy="17.32">+ ~Mctrl()</tspan><tspan x="662" dy="17.32">+ init_generics()</tspan><tspan x="662" dy="17.32">+ GC_HAS_CALLBACKS()</tspan><tspan x="662" dy="17.32">+ end_of_elaboration()</tspan><tspan x="662" dy="17.32">+ start_of_simulation()</tspan><tspan x="662" dy="17.32">+ power_model()</tspan><tspan x="662" dy="17.32">+ sta_power_cb()</tspan><tspan x="662" dy="17.32">+ int_power_cb()</tspan><tspan x="662" dy="17.32">+ swi_power_cb()</tspan><tspan x="662" dy="17.32">+ end_of_simulation()</tspan><tspan x="662" dy="17.32">+ get_clock()</tspan><tspan x="662" dy="17.32">+ dorst()</tspan><tspan x="662" dy="17.32">+ launch_sdram_command()</tspan><tspan x="662" dy="17.32">+ switch_power_mode()</tspan><tspan x="662" dy="17.32">+ mcfg1_write()</tspan><tspan x="662" dy="17.32">+ mcfg2_write()</tspan><tspan x="662" dy="17.32">+ exec_func()</tspan><tspan x="662" dy="17.32">+ transport_dbg()</tspan><tspan x="662" dy="17.32">- get_port()</tspan></text>
</g>
</svg>
